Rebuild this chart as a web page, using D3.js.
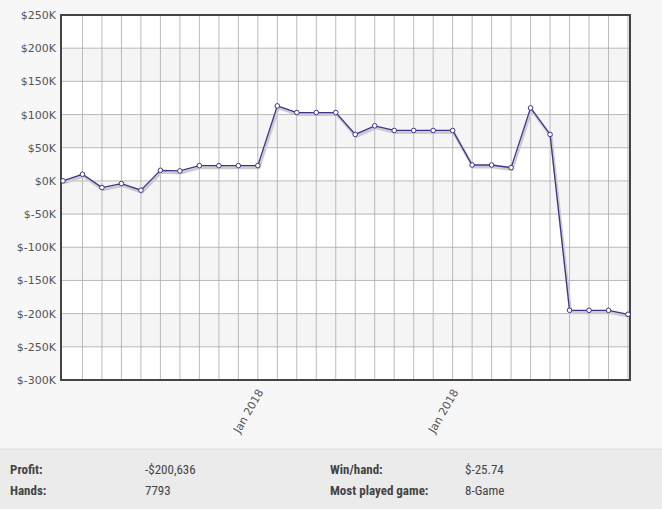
<!DOCTYPE html><html><head><meta charset="utf-8">
<script src="https://cdn.jsdelivr.net/npm/d3@7"></script>
<style>body{margin:0;background:#f7f7f7;font-family:"DejaVu Sans",sans-serif}</style></head><body>
<svg id="c" width="662" height="509"></svg>
<script>
const values=[0,10,-10,-4,-14,16,15,23,23,23,23,113,103,103,103,70,83,76,76,76,76,24,24,20,110,70,-195,-195,-195,-201];
const yTicks=[-300,-250,-200,-150,-100,-50,0,50,100,150,200,250];
const xLabels=[{i:10,t:"Jan 2018"},{i:20,t:"Jan 2018"}];
const statsL=[["Profit:","-$200,636"],["Hands:","7793"]];
const statsR=[["Win/hand:","$-25.74"],["Most played game:","8-Game"]];
const svg=d3.select("#c");
const L=61,R=630,T=15,B=380;
const x=d3.scaleLinear().domain([0,values.length-1]).range([L+2,R-2]);
const y=d3.scaleLinear().domain([-300,250]).range([B,T]);
svg.append("rect").attr("x",0).attr("y",449).attr("width",662).attr("height",60).attr("fill","#ebebeb");
svg.append("line").attr("x1",0).attr("x2",662).attr("y1",449).attr("y2",449).attr("stroke","#ddd");
svg.append("rect").attr("x",L).attr("y",T).attr("width",R-L).attr("height",B-T).attr("fill","#fff");
for(let k=0;k<yTicks.length-1;k++){if(k%2==1)svg.append("rect").attr("x",L).attr("width",R-L).attr("y",y(yTicks[k+1])).attr("height",y(yTicks[k])-y(yTicks[k+1])).attr("fill","#f5f5f5");}
const g=svg.append("g");
values.forEach((v,i)=>{if(i>0)g.append("line").attr("x1",x(i)).attr("x2",x(i)).attr("y1",T).attr("y2",B).attr("stroke","#aaa").attr("stroke-width",0.8);});
yTicks.forEach(t=>{g.append("line").attr("x1",L).attr("x2",R).attr("y1",y(t)).attr("y2",y(t)).attr("stroke","#aaa").attr("stroke-width",0.8);
 svg.append("text").attr("x",L-5).attr("y",y(t)+4).attr("text-anchor","end").attr("font-size",11).attr("fill","#555").text(t<0?"$"+t+"K":"$"+t+"K");});
svg.append("rect").attr("x",L).attr("y",T).attr("width",R-L).attr("height",B-T).attr("fill","none").attr("stroke","#444").attr("stroke-width",2);
const line=d3.line().x((d,i)=>x(i)).y(d=>y(d));
svg.append("path").datum(values).attr("d",line).attr("fill","none").attr("stroke","#ccc").attr("stroke-width",3).attr("transform","translate(1,2)");
svg.append("path").datum(values).attr("d",line).attr("fill","none").attr("stroke","#3a3590").attr("stroke-width",1.3);
svg.selectAll("circle").data(values).join("circle").attr("cx",(d,i)=>x(i)).attr("cy",d=>y(d)).attr("r",2.3).attr("fill","#fff").attr("stroke","#3a3590").attr("stroke-width",1);
xLabels.forEach(l=>{svg.append("text").attr("transform",`translate(${x(l.i)+6},${B+12}) rotate(-60)`).attr("text-anchor","end").attr("font-size",11).attr("fill","#555").text(l.t);});
const ff="'Liberation Sans Narrow','Roboto Condensed',sans-serif";
statsL.forEach((s,k)=>{svg.append("text").attr("x",10).attr("y",474+k*21).attr("font-family",ff).attr("font-weight","bold").attr("font-size",13).attr("fill","#444").text(s[0]);
 svg.append("text").attr("x",145).attr("y",474+k*21).attr("font-family",ff).attr("font-size",13).attr("fill","#444").text(s[1]);});
statsR.forEach((s,k)=>{svg.append("text").attr("x",330).attr("y",474+k*21).attr("font-family",ff).attr("font-weight","bold").attr("font-size",13).attr("fill","#444").text(s[0]);
 svg.append("text").attr("x",465).attr("y",474+k*21).attr("font-family",ff).attr("font-size",13).attr("fill","#444").text(s[1]);});
</script></body></html>
